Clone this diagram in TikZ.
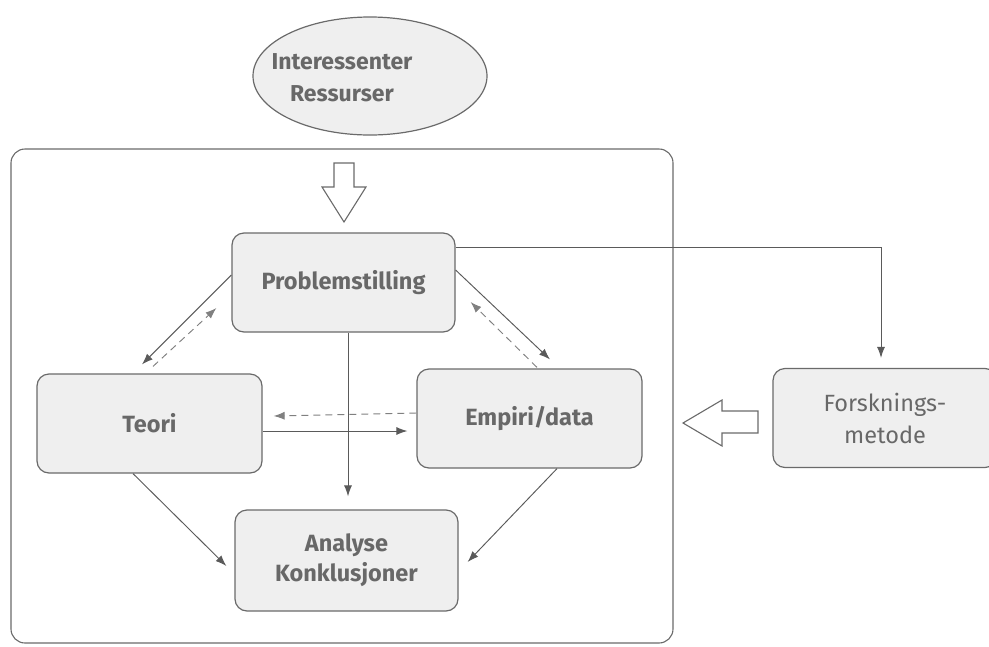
\documentclass[tikz,border=0pt]{standalone}
\usepackage{fontspec}
\setmainfont{Fira Sans}
\usepackage{tikz}
\usetikzlibrary{shapes.geometric, arrows.meta}
\definecolor{boxfill}{HTML}{EFEFEF}
\definecolor{boxline}{HTML}{6A6A6A}
\definecolor{textgray}{HTML}{686868}
\definecolor{linegray}{HTML}{5A5A5A}

\begin{document}
\begin{tikzpicture}[x=1pt, y=-1pt]
  \tikzstyle{line}=[draw=linegray, line width=0.95pt]
  \tikzstyle{process} = [rectangle, rounded corners=12pt, minimum width=223pt, minimum height=99pt, text centered, align=center, draw=boxline, line width=1.2pt, fill=boxfill, text=textgray, font=\fontsize{23.5}{30}\selectfont\bfseries]
  \tikzstyle{source} = [ellipse, minimum width=234pt, minimum height=118pt, draw=boxline, line width=1.2pt, fill=boxfill]
  \tikzstyle{container} = [rectangle, rounded corners=14pt, minimum width=662pt, minimum height=494pt, draw=boxline, line width=1.1pt]
  \tikzstyle{hollow} = [draw=boxline, line width=1.1pt, fill=white, line join=miter]
  \tikzstyle{arrow}=[line, -{Latex[length=11pt, width=8pt]}]
  \tikzstyle{back}=[arrow, draw=gray, dash pattern=on 7pt off 5pt]

  \useasboundingbox (0,0) rectangle (989,646);

  \node (frame) [container] at (342,396) {};
  \node (stake) [source] at (370,76) {};
  \node (staketext) [text=textgray, align=center, font=\fontsize{23}{32}\selectfont\bfseries] at (342,78) {Interessenter\\Ressurser};

  \node (prob) [process] at (343.5,282.5) {Problemstilling};
  \node (teori) [process, minimum width=225pt] at (149.5,423.5) {Teori};
  \node (empiri) [process, minimum width=225pt] at (529.5,418.5) {Empiri/data};
  \node (analyse) [process, minimum height=101pt] at (346.5,560.5) {Analyse\\Konklusjoner};
  \node (forsk) [process, minimum width=224pt, font=\fontsize{23.5}{32}\selectfont\mdseries] at (885,418) {Forsknings-\\metode};

  % hollow block arrows
  \draw [hollow] (334,163) -- (354,163) -- (354,187) -- (366,187) -- (344,222) -- (322,187) -- (334,187) -- cycle;
  \draw [hollow] (758,411) -- (722,411) -- (722,400) -- (683,423) -- (722,446) -- (722,433) -- (758,433) -- cycle;

  \draw [arrow] ([yshift=7.5pt]prob.west) -- ([xshift=-7.5pt,yshift=9pt]teori.north);
  \draw [back] ([xshift=3.5pt,yshift=7pt]teori.north) -- ([xshift=-15pt,yshift=-25.5pt]prob.west);
  \draw [arrow] ([yshift=12.5pt]prob.east) -- ([xshift=20.5pt,yshift=9pt]empiri.north);
  \draw [back] ([xshift=7.5pt,yshift=1pt]empiri.north) -- ([xshift=15pt,yshift=-19.5pt]prob.east);
  \draw [back] ([yshift=5.5pt]empiri.west) -- ([xshift=11pt,yshift=7.5pt]teori.east);
  \draw [arrow] ([yshift=-7.5pt]teori.east) -- ([xshift=-9pt,yshift=-12.5pt]empiri.west);
  \draw [arrow] ([xshift=4.5pt]prob.south) -- ([xshift=1.5pt,yshift=13pt]analyse.north);
  \draw [arrow] ([xshift=-16.5pt]teori.south) -- ([xshift=-8pt,yshift=-5.5pt]analyse.west);
  \draw [arrow] ([xshift=27.5pt]empiri.south) -- ([xshift=9pt,yshift=-1.5pt]analyse.east);
  \draw [arrow] ([yshift=35.5pt]prob.east) -| ([xshift=-4pt,yshift=10pt]forsk.north);

  \end{tikzpicture}
\end{document}
